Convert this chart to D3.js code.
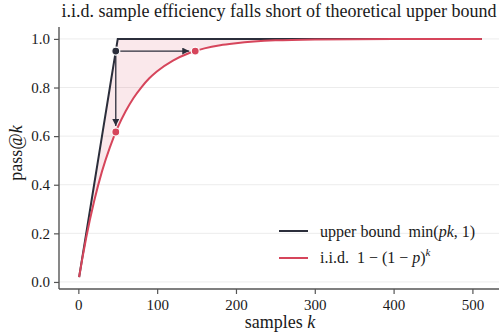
<!DOCTYPE html>
<html><head><meta charset="utf-8">
<script src="https://cdn.jsdelivr.net/npm/d3@7"></script>
<style>body{margin:0;background:#fff}svg{display:block}text{font-family:"Liberation Serif","Times New Roman",serif;fill:#1a1a1a}</style>
</head><body><svg id="c" width="499" height="332"></svg>
<script>
// Samples k and values
const ks = [1, 5, 10, 20, 30, 40, 50, 60, 70, 80, 90, 100, 120, 140, 160, 180, 200, 250, 300, 350, 400, 450, 512];
const upperVals = [0.02, 0.10, 0.20, 0.40, 0.60, 0.80, 1.0, 1.0, 1.0, 1.0, 1.0, 1.0, 1.0, 1.0, 1.0, 1.0, 1.0, 1.0, 1.0, 1.0, 1.0, 1.0, 1.0];
const iidVals = [0.02, 0.096, 0.183, 0.332, 0.455, 0.554, 0.636, 0.702, 0.757, 0.801, 0.838, 0.867, 0.911, 0.941, 0.961, 0.974, 0.982, 0.994, 0.998, 0.999, 1.0, 1.0, 1.0];
const markUpper = [47.5, 0.95];
const markIidDown = [47.5, 0.617];
const markIidRight = [148.3, 0.95];
const xTicks = [0, 100, 200, 300, 400, 500];
const yTicks = [0.0, 0.2, 0.4, 0.6, 0.8, 1.0];

const dark = "#2b2e3b", red = "#d6455b";
const svg = d3.select("#c");
const x = d3.scaleLinear().domain([-24.55, 537.55]).range([59, 502]);
const y = d3.scaleLinear().domain([-0.029, 1.049]).range([289, 27]);

// grid
svg.append("g").selectAll("line").data(yTicks).join("line")
  .attr("x1", 59).attr("x2", 499).attr("y1", d => y(d)).attr("y2", d => y(d))
  .attr("stroke", "#ececec").attr("stroke-width", 1);

const up = ks.map((k, i) => [k, upperVals[i]]);
const iid = ks.map((k, i) => [k, iidVals[i]]);

// clip: above iid curve
const iidLine = d3.line().x(d => x(d[0])).y(d => y(d[1])).curve(d3.curveMonotoneX);
const defs = svg.append("defs");
defs.append("clipPath").attr("id", "above").append("path")
  .attr("d", iidLine(iid) + `L${x(512)},0L${x(1)},0Z`);
svg.append("path")
  .attr("d", d3.area().x(d => x(d[0])).y0(y(0)).y1(d => y(d[1]))(up))
  .attr("clip-path", "url(#above)")
  .attr("fill", red).attr("fill-opacity", 0.12);

// lines
svg.append("path").attr("d", d3.line().x(d => x(d[0])).y(d => y(d[1]))(up))
  .attr("fill", "none").attr("stroke", dark).attr("stroke-width", 2);
svg.append("path").attr("d", iidLine(iid))
  .attr("fill", "none").attr("stroke", red).attr("stroke-width", 2);

// arrows
defs.append("marker").attr("id", "ah").attr("viewBox", "0 0 10 10").attr("refX", 10).attr("refY", 5)
  .attr("markerWidth", 9).attr("markerHeight", 7).attr("markerUnits", "userSpaceOnUse").attr("orient", "auto")
  .append("path").attr("d", "M0,0L10,5L0,10Z").attr("fill", dark);
svg.append("line").attr("x1", x(markUpper[0])).attr("y1", y(markUpper[1]))
  .attr("x2", x(markIidDown[0])).attr("y2", y(markIidDown[1]) - 6)
  .attr("stroke", dark).attr("stroke-width", 1.3).attr("marker-end", "url(#ah)");
svg.append("line").attr("x1", x(markUpper[0])).attr("y1", y(markUpper[1]))
  .attr("x2", x(markIidRight[0]) - 6).attr("y2", y(markIidRight[1]))
  .attr("stroke", dark).attr("stroke-width", 1.3).attr("marker-end", "url(#ah)");

// markers
[[markUpper, dark], [markIidDown, red], [markIidRight, red]].forEach(([m, c]) => {
  svg.append("circle").attr("cx", x(m[0])).attr("cy", y(m[1])).attr("r", 4)
    .attr("fill", c).attr("stroke", "#fff").attr("stroke-width", 1.2);
});

// axes spines
const spine = "#555";
svg.append("line").attr("x1", 59).attr("x2", 59).attr("y1", 27).attr("y2", 289).attr("stroke", spine).attr("stroke-width", 1.4);
svg.append("line").attr("x1", 59).attr("x2", 499).attr("y1", 289).attr("y2", 289).attr("stroke", spine).attr("stroke-width", 1.4);
const xa = svg.append("g").attr("transform", "translate(0,289)")
  .call(d3.axisBottom(x).tickValues(xTicks).tickSize(5).tickPadding(5).tickFormat(d3.format("d")));
const ya = svg.append("g").attr("transform", "translate(59,0)")
  .call(d3.axisLeft(y).tickValues(yTicks).tickSize(5).tickPadding(4).tickFormat(d3.format(".1f")));
[xa, ya].forEach(a => {
  a.select(".domain").remove();
  a.selectAll(".tick line").attr("stroke", spine).attr("stroke-width", 1.2);
  a.selectAll(".tick text").attr("font-size", 15);
});

// title & labels
svg.append("text").attr("x", 279).attr("y", 17).attr("text-anchor", "middle").attr("font-size", 18)
  .text("i.i.d. sample efficiency falls short of theoretical upper bound");
const xl = svg.append("text").attr("x", 280).attr("y", 328).attr("text-anchor", "middle").attr("font-size", 18);
xl.append("tspan").text("samples ");
xl.append("tspan").attr("font-style", "italic").text("k");
const yl = svg.append("text").attr("transform", "translate(22,153) rotate(-90)").attr("text-anchor", "middle").attr("font-size", 18);
yl.append("tspan").text("pass@");
yl.append("tspan").attr("font-style", "italic").text("k");

// legend
const lg = svg.append("g");
lg.append("line").attr("x1", 279).attr("x2", 308).attr("y1", 231).attr("y2", 231).attr("stroke", dark).attr("stroke-width", 2);
lg.append("line").attr("x1", 279).attr("x2", 308).attr("y1", 258).attr("y2", 258).attr("stroke", red).attr("stroke-width", 2);
const t1 = lg.append("text").attr("x", 320).attr("y", 237).attr("font-size", 16);
t1.append("tspan").text("upper bound\u00a0\u00a0min(");
t1.append("tspan").attr("font-style", "italic").text("pk");
t1.append("tspan").text(", 1)");
const t2 = lg.append("text").attr("x", 320).attr("y", 263).attr("font-size", 16);
t2.append("tspan").text("i.i.d.\u00a0\u00a01 \u2212 (1 \u2212 ");
t2.append("tspan").attr("font-style", "italic").text("p");
t2.append("tspan").text(")");
t2.append("tspan").attr("font-style", "italic").attr("font-size", 11).attr("dy", -7).text("k");
</script></body></html>
